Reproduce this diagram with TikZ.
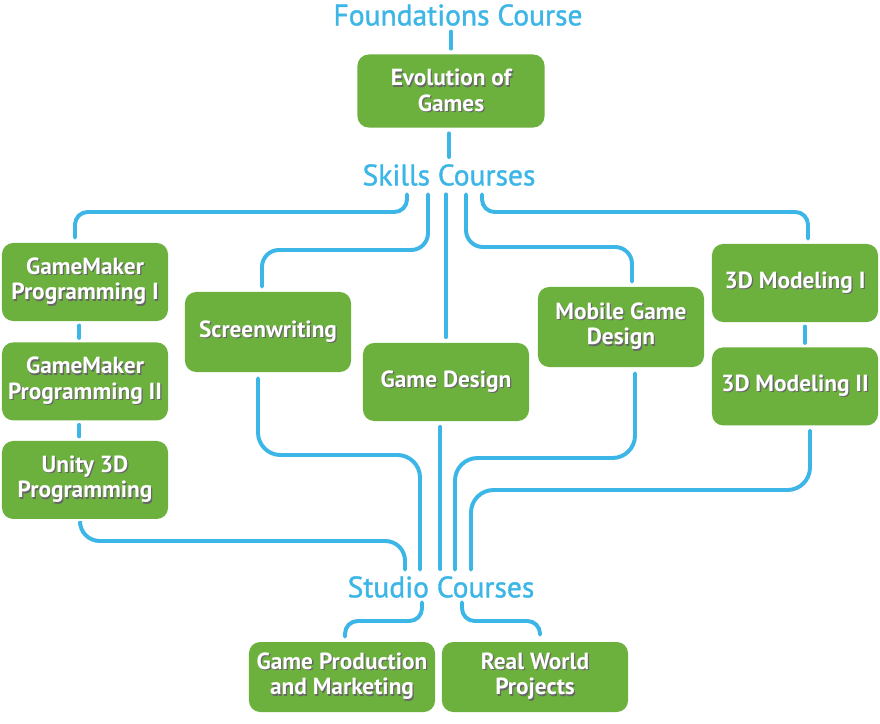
\documentclass[tikz,border=0pt]{standalone}
\usepackage{fontspec}
\setmainfont{PT Sans}
\newfontfamily\headfont{PT Sans}[BoldFont={PT Sans}, BoldFeatures={FakeBold=1.2}]
\usepackage{xcolor}
\usetikzlibrary{positioning}

\definecolor{skyline}{RGB}{59,182,230}
\definecolor{leaf}{RGB}{108,176,62}
% white text with a dark drop shadow, one line at a time
\newcommand{\sh}[1]{\makebox[0pt][l]{\kern0.9pt\raisebox{-0.9pt}{\textcolor{black!60}{#1}}}#1}

\begin{document}
\begin{tikzpicture}[
    x=0.025cm, y=-0.025cm,
    course/.style={rectangle, fill=leaf, rounded corners=8pt, text=white,
                   font=\fontsize{16.6}{18}\selectfont\bfseries, align=center,
                   minimum width=4.15cm, minimum height=1.95cm, inner sep=1pt},
    Cwide/.style={course, minimum width=4.65cm, minimum height=1.75cm},
    head/.style={text=skyline, font=\headfont\bfseries\fontsize{21}{24}\selectfont, inner sep=1pt},
    link/.style={draw=skyline, line width=2.8pt, line cap=round, rounded corners=12pt},
]
\path[use as bounding box, fill=white] (0,0) rectangle (880,723);

% foundations
\node[head] (fnd) at (458,15) {Foundations Course};
\node[course, minimum width=4.675cm, minimum height=1.825cm] (evo) at (451,91)
    {\sh{Evolution of}\\\sh{Games}};
\node[head] (skl) at (449,175) {Skills Courses};

% skills
\node[course] (gm1) at (85,282) {\sh{GameMaker}\\\sh{Programming I}};
\node[course, below=0.52cm of gm1] (gm2) {\sh{GameMaker}\\\sh{Programming II}};
\node[course, below=0.5cm of gm2] (uni) {\sh{Unity 3D}\\\sh{Programming}};
\node[course, minimum height=2.0cm] (sw) at (268,332) {\sh{Screenwriting}};
\node[course] (gd) at (446,382) {\sh{Game Design}};
\node[course, minimum height=2.0cm] (mob) at (621,327) {\sh{Mobile Game}\\\sh{Design}};
\node[course] (m1) at (795,283) {\sh{3D Modeling I}};
\node[course, below=0.62cm of m1] (m2) {\sh{3D Modeling II}};

% studio
\node[head] (stu) at (441,587) {Studio Courses};
\node[Cwide] (gpm) at (342,677) {\sh{Game Production}\\\sh{and Marketing}};
\node[Cwide] (rwp) at (535,677) {\sh{Real World}\\\sh{Projects}};

% connectors
\draw[link, shorten <=3pt, shorten >=4pt] (fnd.south -| evo.north) -- (evo.north);
\draw[link, shorten <=4pt, shorten >=4pt] (evo.south -| skl.north) -- (skl.north);

\draw[link, rounded corners=9pt] ([shift={(-42,7)}]skl.south) |- (300,212) -| ([shift={(-10,-5)}]gm1.north);
\draw[link] ([shift={(-21,7)}]skl.south) |- (350,250) -| ([shift={(-6,-5)}]sw.north);
\draw[link, shorten <=5pt, shorten >=4pt] (skl.south -| gd.north) -- (gd.north);
\draw[link] ([shift={(17,7)}]skl.south) |- (550,247) -| ([shift={(11,-5)}]mob.north);
\draw[link, rounded corners=9pt] ([shift={(33,7)}]skl.south) |- (600,212) -| ([shift={(13,-5)}]m1.north);

\draw[link, shorten <=3pt, shorten >=3pt] ([xshift=-4pt]gm1.south) -- ([xshift=-4pt]gm1.south |- gm2.north);
\draw[link, shorten <=3pt, shorten >=3pt] ([xshift=-4pt]gm2.south) -- ([xshift=-4pt]gm2.south |- uni.north);
\draw[link, shorten <=3pt, shorten >=3pt] ([xshift=7pt]m1.south) -- ([xshift=7pt]m1.south |- m2.north);

\draw[link, rounded corners=14pt] ([shift={(-5,5)}]uni.south) |- (300,541) -| ([shift={(-36,-5)}]stu.north);
\draw[link, rounded corners=16pt] ([shift={(-10,6)}]sw.south) |- (350,455) -| ([shift={(-21,-5)}]stu.north);
\draw[link, shorten <=4pt, shorten >=4pt] ([xshift=-4pt]gd.south) -- ([xshift=-4pt]gd.south |- stu.north);
\draw[link, rounded corners=16pt] ([shift={(14,6)}]mob.south) |- (500,458) -| ([shift={(14,-5)}]stu.north);
\draw[link, rounded corners=16pt] ([shift={(15,5)}]m2.south) |- (600,490) -| ([shift={(30,-5)}]stu.north);

\draw[link, rounded corners=9pt] ([shift={(-19,3)}]stu.south) |- (380,621) -| ([shift={(3,-5)}]gpm.north);
\draw[link, rounded corners=9pt] ([shift={(21,3)}]stu.south) |- (500,621) -| ([shift={(5,-7)}]rwp.north);
\end{tikzpicture}
\end{document}
